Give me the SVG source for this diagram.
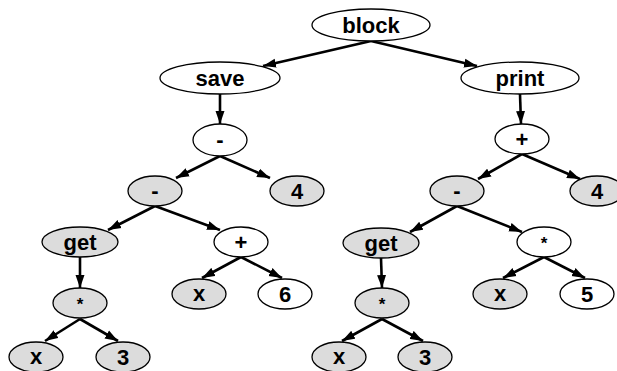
<svg xmlns="http://www.w3.org/2000/svg" width="617" height="371" viewBox="0 0 617 371">
  <style>
    .node ellipse { stroke: #000; stroke-width: 1.3; }
    .w ellipse { fill: #fff; }
    .g ellipse { fill: #dcdcdc; }
    .node text { font-family: "Liberation Sans", Arial, sans-serif; font-weight: bold; font-size: 22px; text-anchor: middle; fill: #000; }
    .node text.sm { font-size: 17px; }
    #edges line { stroke: #000; stroke-width: 2.6; marker-end: url(#arrow); }
  </style>
  <defs>
    <marker id="arrow" markerUnits="userSpaceOnUse" markerWidth="14" markerHeight="10" refX="13" refY="5" orient="auto">
      <path d="M0,0.5 L13,5 L0,9.5 z" fill="#000"/>
    </marker>
  </defs>
  <rect width="617" height="371" fill="#fff"/>

  <g id="edges">
    <line x1="371" y1="41" x2="263" y2="66"/>
    <line x1="371" y1="41" x2="477" y2="66"/>
    <line x1="220" y1="94" x2="220" y2="124"/>
    <line x1="220" y1="156" x2="176" y2="178"/>
    <line x1="220" y1="156" x2="270" y2="178"/>
    <line x1="155" y1="206" x2="108" y2="230"/>
    <line x1="155" y1="206" x2="220" y2="230"/>
    <line x1="80" y1="257" x2="80" y2="288"/>
    <line x1="80" y1="319" x2="45" y2="341"/>
    <line x1="80" y1="319" x2="118" y2="341"/>
    <line x1="241" y1="257" x2="202" y2="278"/>
    <line x1="241" y1="257" x2="282" y2="278"/>
    <line x1="520" y1="94" x2="521" y2="124"/>
    <line x1="522" y1="154" x2="478" y2="179"/>
    <line x1="522" y1="154" x2="580" y2="179"/>
    <line x1="457" y1="206" x2="410" y2="232"/>
    <line x1="457" y1="206" x2="522" y2="232"/>
    <line x1="381" y1="258" x2="382" y2="288"/>
    <line x1="382" y1="319" x2="342" y2="341"/>
    <line x1="382" y1="319" x2="423" y2="341"/>
    <line x1="544" y1="257" x2="503" y2="278"/>
    <line x1="544" y1="257" x2="585" y2="278"/>
  </g>

  <g id="n-block" class="node w"><ellipse cx="371" cy="25" rx="59" ry="16"/><text x="371" y="33">block</text></g>
  <g id="n-save" class="node w"><ellipse cx="220" cy="78" rx="60" ry="16"/><text x="220" y="86">save</text></g>
  <g id="n-print" class="node w"><ellipse cx="520" cy="78" rx="59" ry="16"/><text x="520" y="86">print</text></g>

  <g id="n-sub1" class="node w"><ellipse cx="220" cy="140" rx="27" ry="16"/><text x="220" y="147">-</text></g>
  <g id="n-sub2" class="node g"><ellipse cx="155" cy="191" rx="27" ry="15"/><text x="155" y="198">-</text></g>
  <g id="n-four1" class="node g"><ellipse cx="297" cy="191" rx="27" ry="15"/><text x="297" y="199">4</text></g>
  <g id="n-get1" class="node g"><ellipse cx="80" cy="242" rx="38" ry="15"/><text x="80" y="250">get</text></g>
  <g id="n-plus1" class="node w"><ellipse cx="241" cy="242" rx="27" ry="15"/><text x="241" y="250">+</text></g>
  <g id="n-mul1" class="node g"><ellipse cx="80" cy="303" rx="27" ry="15"/><text class="sm" x="80" y="310">*</text></g>
  <g id="n-x1" class="node g"><ellipse cx="199" cy="294" rx="27" ry="15"/><text x="199" y="301">x</text></g>
  <g id="n-six" class="node w"><ellipse cx="285" cy="294" rx="27" ry="15"/><text x="285" y="302">6</text></g>
  <g id="n-x2" class="node g"><ellipse cx="36" cy="357" rx="27" ry="15"/><text x="36" y="364">x</text></g>
  <g id="n-three1" class="node g"><ellipse cx="123" cy="357" rx="27" ry="15"/><text x="123" y="365">3</text></g>

  <g id="n-plus2" class="node w"><ellipse cx="522" cy="139" rx="27" ry="15"/><text x="522" y="147">+</text></g>
  <g id="n-sub3" class="node g"><ellipse cx="457" cy="191" rx="27" ry="15"/><text x="457" y="198">-</text></g>
  <g id="n-four2" class="node g"><ellipse cx="597" cy="191" rx="27" ry="15"/><text x="597" y="199">4</text></g>
  <g id="n-get2" class="node g"><ellipse cx="381" cy="243" rx="38" ry="15"/><text x="381" y="251">get</text></g>
  <g id="n-mul2" class="node w"><ellipse cx="544" cy="242" rx="27" ry="15"/><text class="sm" x="544" y="249">*</text></g>
  <g id="n-mul3" class="node g"><ellipse cx="382" cy="303" rx="27" ry="15"/><text class="sm" x="382" y="310">*</text></g>
  <g id="n-x3" class="node g"><ellipse cx="500" cy="294" rx="27" ry="15"/><text x="500" y="301">x</text></g>
  <g id="n-five" class="node w"><ellipse cx="587" cy="294" rx="27" ry="15"/><text x="587" y="302">5</text></g>
  <g id="n-x4" class="node g"><ellipse cx="339" cy="357" rx="27" ry="15"/><text x="339" y="364">x</text></g>
  <g id="n-three2" class="node g"><ellipse cx="425" cy="357" rx="27" ry="15"/><text x="425" y="365">3</text></g>
</svg>
